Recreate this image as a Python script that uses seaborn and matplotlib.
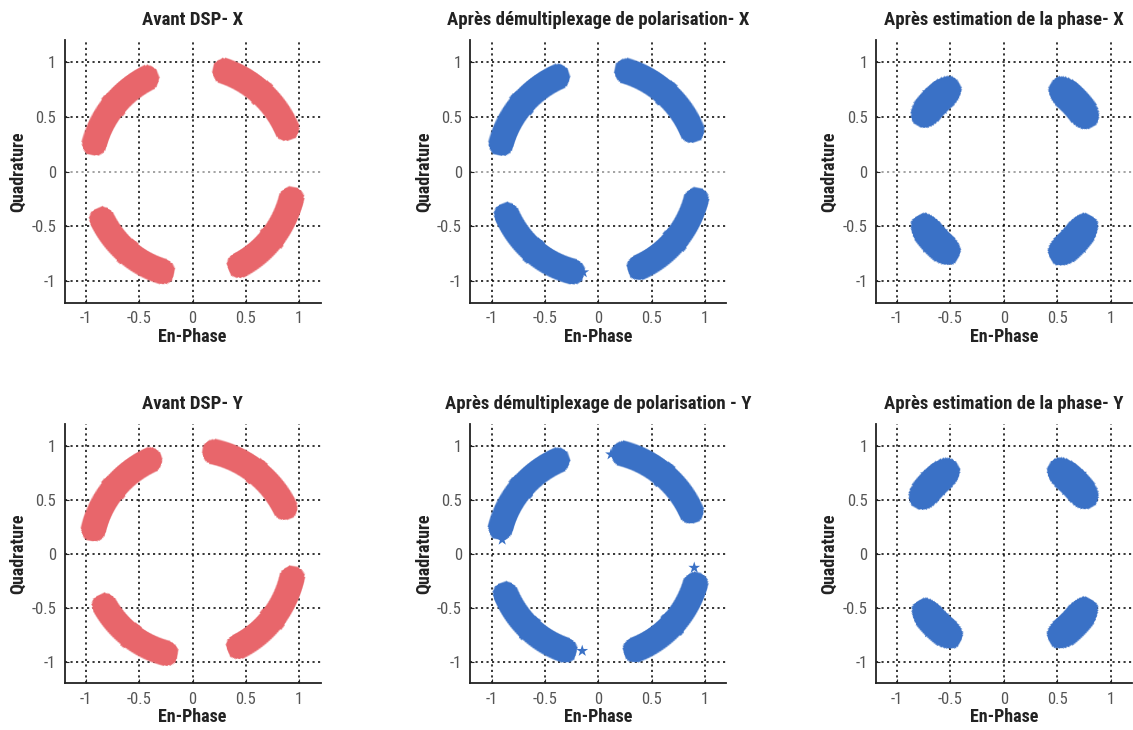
import numpy as np
import pandas as pd
import matplotlib
matplotlib.use("Agg")
import matplotlib.pyplot as plt
from matplotlib import font_manager as fm
import seaborn as sns

# ---- Panel texts -----------------------------------------------------------
titles = [
    "Avant DSP- X",
    "Après démultiplexage de polarisation- X",
    "Après estimation de la phase- X",
    "Avant DSP- Y",
    "Après démultiplexage de polarisation - Y",
    "Après estimation de la phase- Y",
]
x_label = "En-Phase"
y_label = "Quadrature"
tick_values = [-1, -0.5, 0, 0.5, 1]
tick_labels = ["-1", "-0.5", "0", "0.5", "1"]

RED = "#E8666B"
BLUE = "#3A71C6"
panel_colors = [RED, BLUE, BLUE, RED, BLUE, BLUE]

# ---- Symbol clouds: one entry per QPSK symbol (UR, UL, LL, LR) --------------
# centre phase (deg), half phase spread (deg), mean amplitude, half amplitude spread
avant_x_phase = [48, 140.5, -130, -39]
avant_x_spread = [29, 29, 28, 29]
avant_x_amp = [0.965, 0.955, 0.955, 0.96]
avant_x_width = [0.095, 0.095, 0.095, 0.095]

demux_x_phase = [48.5, 139, -130, -41]
demux_x_spread = [30.5, 30.5, 30.5, 30.5]
demux_x_amp = [0.955, 0.945, 0.945, 0.955]
demux_x_width = [0.095, 0.095, 0.095, 0.095]

phase_x_phase = [43.7, 135, -136, -43.7]
phase_x_spread = [16, 16, 16, 16]
phase_x_amp = [0.92, 0.91, 0.90, 0.91]
phase_x_width = [0.12, 0.12, 0.12, 0.12]

avant_y_phase = [52, 140.5, -127.5, -38.5]
avant_y_spread = [31, 31, 27.5, 30]
avant_y_amp = [0.965, 0.955, 0.955, 0.96]
avant_y_width = [0.095, 0.095, 0.095, 0.095]

demux_y_phase = [50, 139.5, -133, -43]
demux_y_spread = [31, 31, 29, 31]
demux_y_amp = [0.955, 0.945, 0.945, 0.955]
demux_y_width = [0.095, 0.095, 0.095, 0.095]

phase_y_phase = [45.2, 135.2, -134, -44.8]
phase_y_spread = [16, 16, 16, 16]
phase_y_amp = [0.93, 0.93, 0.91, 0.92]
phase_y_width = [0.12, 0.12, 0.12, 0.12]

# isolated samples lying outside the main clouds
demux_x_stray_i = [-0.14, -0.20]
demux_x_stray_q = [-0.92, -0.95]
demux_y_stray_i = [0.12, -0.15, 0.90, -0.90]
demux_y_stray_q = [0.92, -0.90, -0.13, 0.13]

panels = [
    (avant_x_phase, avant_x_spread, avant_x_amp, avant_x_width, "arc", [], []),
    (demux_x_phase, demux_x_spread, demux_x_amp, demux_x_width, "arc",
     demux_x_stray_i, demux_x_stray_q),
    (phase_x_phase, phase_x_spread, phase_x_amp, phase_x_width, "blob", [], []),
    (avant_y_phase, avant_y_spread, avant_y_amp, avant_y_width, "arc", [], []),
    (demux_y_phase, demux_y_spread, demux_y_amp, demux_y_width, "arc",
     demux_y_stray_i, demux_y_stray_q),
    (phase_y_phase, phase_y_spread, phase_y_amp, phase_y_width, "blob", [], []),
]


def cloud(phase, spread, amp, width, shape, step=0.0085):
    """Fill one symbol region (in phase/amplitude coordinates) with samples."""
    arc_len = np.deg2rad(spread) * amp
    nt = max(int(2 * arc_len / step), 3)
    ns = max(int(2 * width / step), 3)
    t, s = np.meshgrid(np.linspace(-1, 1, nt), np.linspace(-1, 1, ns))
    t, s = t.ravel(), s.ravel()
    if shape == "blob":
        keep = np.abs(t) ** 2.5 + np.abs(s) ** 2.5 <= 1.0
    else:
        keep = np.abs(s) <= np.sqrt(np.clip(1 - t ** 12, 0, 1))
    t, s = t[keep], s[keep]
    ang = np.deg2rad(phase + t * spread)
    r = amp + s * width
    return r * np.cos(ang), r * np.sin(ang)


sns.set_theme(style="white")

# prefer a narrow sans face when one is available
_names = {f.name for f in fm.fontManager.ttflist}
_stretch = {(f.name, f.stretch) for f in fm.fontManager.ttflist}
stretch = "normal"
if "Liberation Sans Narrow" in _names:
    family = ["Liberation Sans Narrow", "DejaVu Sans"]
elif "Roboto Condensed" in _names:
    family = ["Roboto Condensed", "DejaVu Sans"]
elif ("DejaVu Sans", "condensed") in _stretch or ("DejaVu Sans", "semi-condensed") in _stretch:
    family = ["DejaVu Sans"]
    stretch = "condensed"
else:
    family = ["Liberation Sans", "DejaVu Sans"]
plt.rcParams["font.family"] = family
plt.rcParams["font.stretch"] = stretch
plt.rcParams["axes.unicode_minus"] = False

fig = plt.figure(figsize=(11.33, 7.30), dpi=100)

col_left = [0.057, 0.415, 0.773]
col_width = 0.226
row_bottom = [0.585, 0.064]
row_height = [0.360, 0.355]

for k, (ph, sp, am, wd, shape, sx, sy) in enumerate(panels):
    row, col = divmod(k, 3)
    ax = fig.add_axes([col_left[col], row_bottom[row], col_width, row_height[row]])

    xs, ys = [], []
    for c in range(4):
        cx, cy = cloud(ph[c], sp[c], am[c], wd[c], shape)
        xs.append(cx)
        ys.append(cy)
    df = pd.DataFrame({"I": np.concatenate(xs), "Q": np.concatenate(ys)})
    sns.scatterplot(data=df, x="I", y="Q", ax=ax, marker="*", s=42,
                    color=panel_colors[k], linewidth=0, edgecolor="none",
                    rasterized=True)
    if sx:
        sns.scatterplot(x=sx, y=sy, ax=ax, marker="*", s=80,
                        color=panel_colors[k], linewidth=0, edgecolor="none")

    ax.set_xlim(-1.2, 1.2)
    ax.set_ylim(-1.2, 1.2)
    ax.set_xticks(tick_values)
    ax.set_xticklabels(tick_labels)
    ax.set_yticks(tick_values)
    ax.set_yticklabels(tick_labels)

    # dotted grid at every tick
    for v in tick_values:
        col_line = "#8a8a8a" if (row == 0 and v == 0) else "black"
        ax.axhline(v, color=col_line, lw=1.1, ls=(0, (1.4, 2.2)), zorder=0)
        ax.axvline(v, color="black", lw=1.1, ls=(0, (1.4, 2.2)), zorder=0)

    for side in ("top", "right"):
        ax.spines[side].set_visible(False)
    for side in ("left", "bottom"):
        ax.spines[side].set_color("#222222")
        ax.spines[side].set_linewidth(1.3)

    ax.tick_params(axis="both", direction="in", length=3, width=0.8,
                   colors="#222222", labelcolor="#555555", labelsize=12,
                   bottom=True, left=True, pad=6)
    ax.set_xlabel(x_label, fontsize=13, fontweight="bold", color="#222222",
                  labelpad=1)
    ax.set_ylabel(y_label, fontsize=13, fontweight="bold", color="#222222",
                  labelpad=3)
    ax.set_title(titles[k], fontsize=13.5, fontweight="bold", color="#222222",
                 pad=11)

fig.savefig("out.png", dpi=100)
